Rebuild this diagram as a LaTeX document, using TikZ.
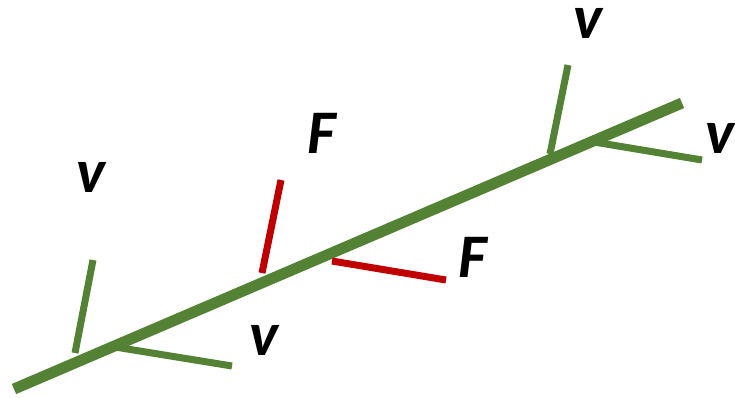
\documentclass[tikz,border=0pt]{standalone}
\usepackage{fontspec}
\setmainfont{Carlito}
\usepackage{tikz}
\definecolor{leafgreen}{RGB}{84,130,53}
\definecolor{forcered}{RGB}{192,0,0}
\tikzset{
  stem/.style={draw=leafgreen,line width=11pt},
  branch/.style={draw=leafgreen,line width=7pt},
  force/.style={draw=forcered,line width=7pt},
  lbl/.style={anchor=base,inner sep=0pt,font=\fontsize{62}{62}\selectfont\bfseries\itshape}
}

\begin{document}
\begin{tikzpicture}[x=1pt,y=-1pt]
\useasboundingbox (0,0) rectangle (735,397);
\coordinate (s0) at (14,389);
\coordinate (s1) at (682,103);
\coordinate (a0) at (75,353);
\coordinate (a1) at (93,260);
\coordinate (b0) at (115,347);
\coordinate (b1) at (232,366);
\coordinate (f0) at (262,273);
\coordinate (f1) at (281,180);
\coordinate (g0) at (332,261);
\coordinate (g1) at (446,280);
\coordinate (c0) at (550,154);
\coordinate (c1) at (568,65);
\coordinate (d0) at (594,142);
\coordinate (d1) at (702,160);
\draw[stem] (s0) -- (s1);
\draw[branch] (a0) -- (a1);
\draw[branch] (b0) -- (b1);
\draw[force] (f0) -- (f1);
\draw[force] (g0) -- (g1);
\draw[branch] (c0) -- (c1);
\draw[branch] (d0) -- (d1);
\node[lbl] (v1) at (91,192) {v};
\node[lbl] (v2) at (264,355) {v};
\node[lbl] (F1) at (322,153) {F};
\node[lbl] (F2) at (473,277) {F};
\node[lbl] (v3) at (588,38) {v};
\node[lbl] (v4) at (720,153) {v};
\end{tikzpicture}
\end{document}
